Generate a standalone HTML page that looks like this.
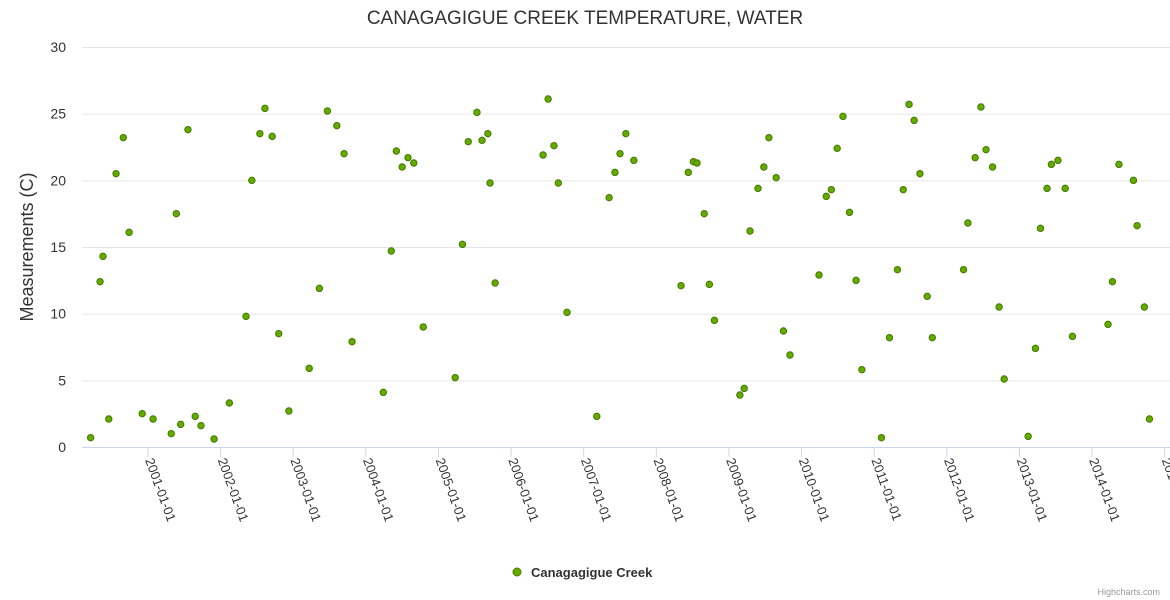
<!DOCTYPE html>
<html><head><meta charset="utf-8"><style>
body{margin:0;background:#fff;}
svg{display:block;font-family:"Liberation Sans",sans-serif;}
</style></head><body>
<svg id="chart" width="1170" height="600">
<text x="585" y="24" text-anchor="middle" font-size="19" fill="#333">CANAGAGIGUE CREEK TEMPERATURE, WATER</text>
<text transform="translate(33,247) rotate(-90)" text-anchor="middle" font-size="18" fill="#333">Measurements (C)</text>
<g id="grid"></g><g id="xaxis"></g><g id="pts"></g>
<g>
<circle cx="517" cy="572" r="4" fill="#66aa00" stroke="#4a8000" stroke-width="1"/>
<text x="531" y="577" font-size="13" font-weight="bold" fill="#333">Canagagigue Creek</text></g>
<text x="1160" y="595" text-anchor="end" font-size="9" fill="#999">Highcharts.com</text>
</svg>
<script>
const xYears=[2000.21,2000.34,2000.38,2000.46,2000.56,2000.66,2000.74,2000.92,2001.07,2001.32,2001.39,2001.45,2001.55,2001.65,2001.73,2001.91,2002.12,2002.35,2002.43,2002.54,2002.61,2002.71,2002.80,2002.94,2003.22,2003.36,2003.47,2003.60,2003.70,2003.81,2004.24,2004.35,2004.42,2004.50,2004.58,2004.66,2004.79,2005.23,2005.33,2005.41,2005.53,2005.60,2005.68,2005.71,2005.78,2006.44,2006.51,2006.59,2006.65,2006.77,2007.18,2007.35,2007.43,2007.50,2007.58,2007.69,2008.34,2008.44,2008.51,2008.56,2008.66,2008.73,2008.80,2009.15,2009.21,2009.29,2009.40,2009.48,2009.55,2009.65,2009.75,2009.84,2010.24,2010.34,2010.41,2010.49,2010.57,2010.66,2010.75,2010.83,2011.10,2011.21,2011.32,2011.40,2011.48,2011.55,2011.63,2011.73,2011.80,2012.23,2012.29,2012.39,2012.47,2012.54,2012.63,2012.72,2012.79,2013.12,2013.22,2013.29,2013.38,2013.44,2013.53,2013.63,2013.73,2014.22,2014.28,2014.37,2014.57,2014.62,2014.72,2014.79];
const temps=[0.7,12.4,14.3,2.1,20.5,23.2,16.1,2.5,2.1,1.0,17.5,1.7,23.8,2.3,1.6,0.6,3.3,9.8,20.0,23.5,25.4,23.3,8.5,2.7,5.9,11.9,25.2,24.1,22.0,7.9,4.1,14.7,22.2,21.0,21.7,21.3,9.0,5.2,15.2,22.9,25.1,23.0,23.5,19.8,12.3,21.9,26.1,22.6,19.8,10.1,2.3,18.7,20.6,22.0,23.5,21.5,12.1,20.6,21.4,21.3,17.5,12.2,9.5,3.9,4.4,16.2,19.4,21.0,23.2,20.2,8.7,6.9,12.9,18.8,19.3,22.4,24.8,17.6,12.5,5.8,0.7,8.2,13.3,19.3,25.7,24.5,20.5,11.3,8.2,13.3,16.8,21.7,25.5,22.3,21.0,10.5,5.1,0.8,7.4,16.4,19.4,21.2,21.5,19.4,8.3,9.2,12.4,21.2,20.0,16.6,10.5,2.1];
const yTicks=[0,5,10,15,20,25,30];
const xTickYears=[2001,2002,2003,2004,2005,2006,2007,2008,2009,2010,2011,2012,2013,2014,2015];
const NS="http://www.w3.org/2000/svg";
function X(yr){return 148+(yr-2001)*72.62;}
function Y(v){return 447-v*13.333;}
function mk(t,a,p){const e=document.createElementNS(NS,t);for(const k in a)e.setAttribute(k,a[k]);p.appendChild(e);return e;}
const grid=document.getElementById('grid');
yTicks.forEach(v=>{
 const l=mk('line',{x1:82,x2:1170,y1:Y(v)+0.5,y2:Y(v)+0.5,stroke:v===0?'#ccd6eb':'#e6e6e6','stroke-width':1},grid);
 
 
 const t=mk('text',{x:66,y:Y(v)+5,'text-anchor':'end','font-size':14,fill:'#333'},grid);
 t.textContent=v;
 
 
});
const xa=document.getElementById('xaxis');
xTickYears.forEach(yr=>{
 const x=X(yr);
 const l=mk('line',{x1:x,x2:x,y1:447,y2:457,stroke:'#ccd6eb'},xa);
 
 
 const t=mk('text',{transform:`translate(${x-3},460) rotate(70)`,'font-size':13,fill:'#333'},xa);
 t.textContent=yr+'-01-01';
 
 
});
const pg=document.getElementById('pts');
xYears.forEach((yr,i)=>{
 const c=mk('circle',{cx:X(yr),cy:Y(temps[i]),r:3.2,fill:'#66aa00',stroke:'#3f7a00','stroke-width':1},pg);
 
 
});
</script>
</body></html>
